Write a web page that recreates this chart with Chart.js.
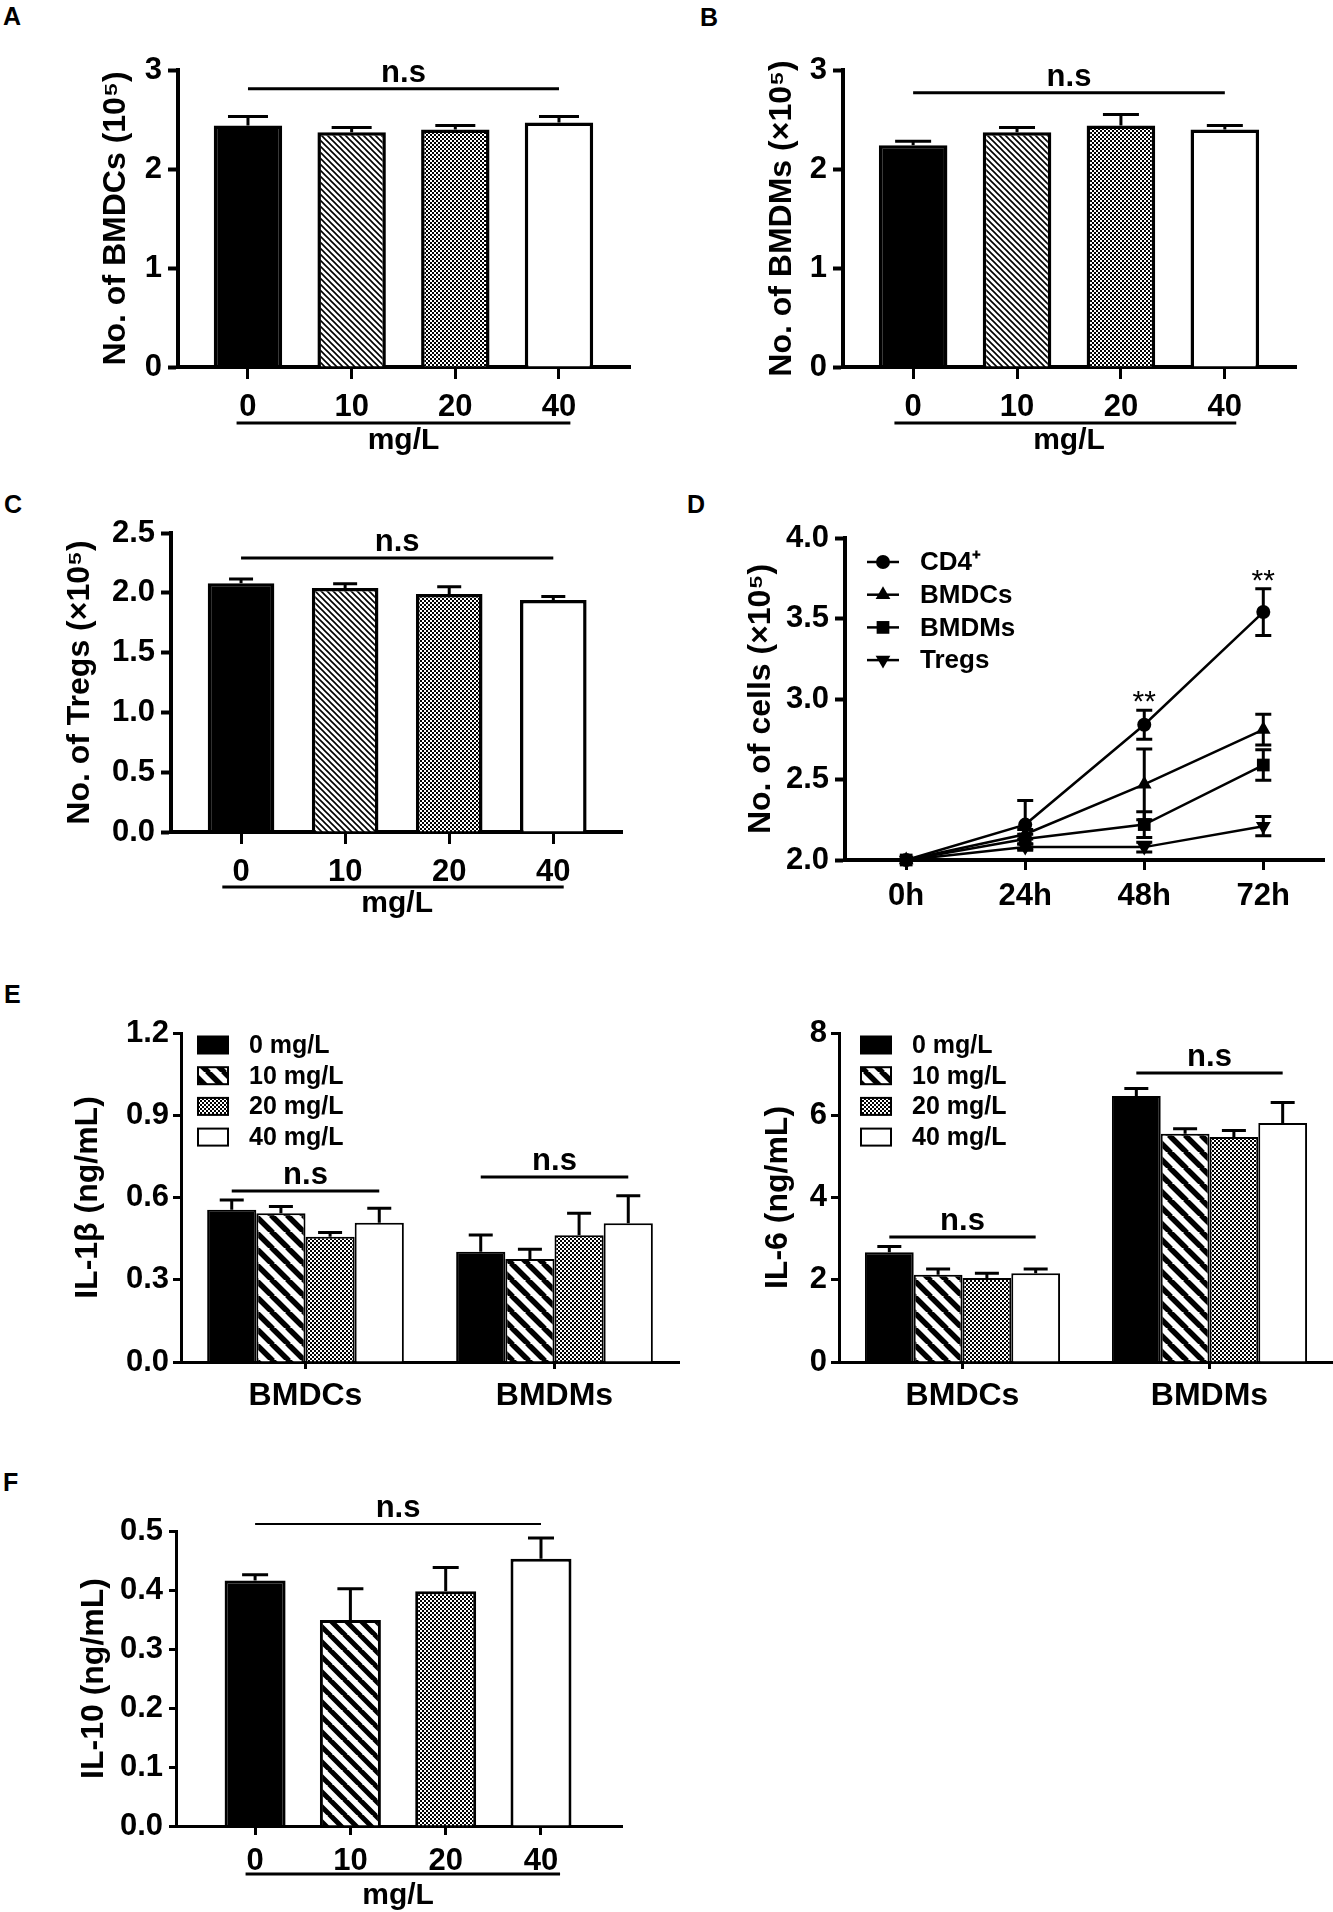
<!DOCTYPE html>
<html>
<head>
<meta charset="utf-8">
<script src="https://cdn.jsdelivr.net/npm/chart.js@4.4.1/dist/chart.umd.min.js"></script>
<style>
    body { margin: 0; background: #fff; width: 1333px; height: 1912px; position: relative; overflow: hidden;
           font-family: 'Liberation Sans', Arial, sans-serif; }
    canvas { position: absolute; }
    .tag { position: absolute; font-weight: bold; font-size: 25px; line-height: 1; }
</style>
</head>
<body>
<div class="tag" style="left:3px;top:4px">A</div>
<div class="tag" style="left:700px;top:5px">B</div>
<div class="tag" style="left:4px;top:492px">C</div>
<div class="tag" style="left:687px;top:492px">D</div>
<div class="tag" style="left:4px;top:982px">E</div>
<div class="tag" style="left:3px;top:1470px">F</div>

<canvas id="chartA" style="left:0;top:0" width="666" height="470"></canvas>
<canvas id="chartB" style="left:666px;top:0" width="667" height="470"></canvas>
<canvas id="chartC" style="left:0;top:480px" width="666" height="450"></canvas>
<canvas id="chartD" style="left:666px;top:480px" width="667" height="450"></canvas>
<canvas id="chartE1" style="left:0;top:960px" width="690" height="470"></canvas>
<canvas id="chartE2" style="left:690px;top:960px" width="643" height="470"></canvas>
<canvas id="chartF" style="left:0;top:1440px" width="666" height="472"></canvas>

<script>
// ---- data ----
const doseLabels = ['0', '10', '20', '40'];

// A: BMDCs (10^5)
const bmdcMean = [2.44, 2.37, 2.40, 2.47];
const bmdcSem  = [0.09, 0.05, 0.04, 0.06];
// B: BMDMs (x10^5)
const bmdmMean = [2.24, 2.37, 2.44, 2.40];
const bmdmSem  = [0.04, 0.05, 0.11, 0.04];
// C: Tregs (x10^5)
const tregMean = [2.08, 2.04, 1.99, 1.94];
const tregSem  = [0.035, 0.035, 0.06, 0.03];
// F: IL-10 (ng/mL)
const il10Mean = [0.416, 0.349, 0.398, 0.453];
const il10Sem  = [0.010, 0.053, 0.040, 0.035];

// D: growth curves (x10^5)
const hours = ['0h', '24h', '48h', '72h'];
const cd4Cells     = [2.00, 2.22, 2.84, 3.54];
const cd4CellSem   = [0, 0.15, 0.09, 0.145];
const bmdcCells    = [2.00, 2.16, 2.47, 2.81];
const bmdcCellSem  = [0, 0.03, 0.22, 0.095];
const bmdmCells    = [2.00, 2.13, 2.22, 2.59];
const bmdmCellSem  = [0, 0.03, 0.08, 0.095];
const tregCells    = [2.00, 2.08, 2.08, 2.21];
const tregCellSem  = [0, 0.02, 0.03, 0.06];
const starLevel    = [null, null, 3.05, 3.80];

// E: cytokines by cell type
const cellGroups = ['BMDCs', 'BMDMs'];
const doseNames = ['0 mg/L', '10 mg/L', '20 mg/L', '40 mg/L'];
const il1bBmdc    = [0.555, 0.543, 0.457, 0.508];
const il1bBmdcSem = [0.036, 0.024, 0.015, 0.053];
const il1bBmdm    = [0.402, 0.376, 0.462, 0.506];
const il1bBmdmSem = [0.061, 0.035, 0.081, 0.100];
const il6Bmdc     = [2.67, 2.12, 2.04, 2.16];
const il6BmdcSem  = [0.14, 0.14, 0.12, 0.10];
const il6Bmdm     = [6.47, 5.55, 5.47, 5.81];
const il6BmdmSem  = [0.18, 0.12, 0.16, 0.50];

// ---- defaults ----
const FAMILY = "'Liberation Sans', Arial, sans-serif";
const TICK = 31;
Chart.defaults.font.family = FAMILY;
Chart.defaults.font.weight = 'bold';
Chart.defaults.color = '#000';
Chart.defaults.animation = false;
Chart.defaults.plugins.legend.display = false;
Chart.defaults.plugins.tooltip.enabled = false;

// ---- fill patterns ----
function hatch(ctx, size, width) {
    const c = document.createElement('canvas');
    c.width = c.height = size;
    const g = c.getContext('2d');
    g.fillStyle = '#fff';
    g.fillRect(0, 0, size, size);
    g.strokeStyle = '#000';
    g.lineWidth = width;
    g.beginPath();
    for (let k = -1; k <= 1; k++) {
        g.moveTo(k * size - 1, -1);
        g.lineTo(k * size + size + 1, size + 1);
    }
    g.stroke();
    return ctx.createPattern(c, 'repeat');
}
function checker(ctx, cell) {
    const c = document.createElement('canvas');
    c.width = c.height = cell * 2;
    const g = c.getContext('2d');
    g.fillStyle = '#fff';
    g.fillRect(0, 0, cell * 2, cell * 2);
    g.fillStyle = '#000';
    g.fillRect(0, 0, cell, cell);
    g.fillRect(cell, cell, cell, cell);
    return ctx.createPattern(c, 'repeat');
}

// ---- plugins ----
const errorBars = {
    id: 'errorBars',
    afterDatasetsDraw(chart, args, o) {
        const ctx = chart.ctx, ys = chart.scales.y;
        ctx.save();
        ctx.strokeStyle = '#000';
        ctx.lineWidth = o.width;
        chart.data.datasets.forEach((ds, i) => {
            const meta = chart.getDatasetMeta(i);
            meta.data.forEach((el, j) => {
                const e = ds.errors[j];
                if (!e) return;
                const v = meta.controller.getParsed(j).y;
                const top = ys.getPixelForValue(v + e);
                const bot = o.both ? ys.getPixelForValue(v - e) : el.y;
                ctx.beginPath();
                ctx.moveTo(el.x, bot);
                ctx.lineTo(el.x, top);
                ctx.moveTo(el.x - o.cap / 2, top);
                ctx.lineTo(el.x + o.cap / 2, top);
                if (o.both) {
                    ctx.moveTo(el.x - o.cap / 2, bot);
                    ctx.lineTo(el.x + o.cap / 2, bot);
                }
                ctx.stroke();
            });
        });
        ctx.restore();
    }
};

// "n.s" brackets; mode 'dose' spans x=0..3, mode 'group' spans first..last bar in a group
const sigLines = {
    id: 'sigLines',
    afterDraw(chart, args, o) {
        if (!o.items) return;
        const ctx = chart.ctx, ys = chart.scales.y, xs = chart.scales.x;
        ctx.save();
        ctx.strokeStyle = '#000';
        ctx.fillStyle = '#000';
        ctx.lineWidth = o.width;
        ctx.font = 'bold ' + o.size + 'px ' + FAMILY;
        ctx.textAlign = 'center';
        ctx.textBaseline = 'alphabetic';
        o.items.forEach(it => {
            let x1, x2;
            if (o.mode === 'group') {
                const n = chart.data.datasets.length;
                x1 = chart.getDatasetMeta(0).data[it.group].x;
                x2 = chart.getDatasetMeta(n - 1).data[it.group].x;
            } else {
                x1 = xs.getPixelForValue(0);
                x2 = xs.getPixelForValue(3);
            }
            const y = ys.getPixelForValue(it.level);
            ctx.beginPath();
            ctx.moveTo(x1, y);
            ctx.lineTo(x2, y);
            ctx.stroke();
            ctx.fillText('n.s', (x1 + x2) / 2, y - 7);
        });
        ctx.restore();
    }
};

// line + "mg/L" under the dose tick labels
const doseUnit = {
    id: 'doseUnit',
    afterDraw(chart, args, o) {
        if (!o.show) return;
        const ctx = chart.ctx, xs = chart.scales.x, b = chart.chartArea.bottom;
        const x1 = xs.getPixelForValue(o.from), x2 = xs.getPixelForValue(o.to);
        ctx.save();
        ctx.strokeStyle = '#000';
        ctx.lineWidth = 3;
        ctx.beginPath();
        ctx.moveTo(x1, b + o.line);
        ctx.lineTo(x2, b + o.line);
        ctx.stroke();
        ctx.fillStyle = '#000';
        ctx.font = 'bold 30px ' + FAMILY;
        ctx.textAlign = 'center';
        ctx.textBaseline = 'alphabetic';
        ctx.fillText('mg/L', xs.getPixelForValue(1.5), b + o.text);
        ctx.restore();
    }
};

const boxLegend = {
    id: 'boxLegend',
    afterDraw(chart, args, o) {
        if (!o.show) return;
        const ctx = chart.ctx, {left, top} = chart.chartArea;
        ctx.save();
        ctx.font = 'bold 25px ' + FAMILY;
        ctx.textBaseline = 'middle';
        chart.data.datasets.forEach((ds, i) => {
            const y = top + o.y0 + i * o.gap;
            ctx.fillStyle = ds.backgroundColor;
            ctx.fillRect(left + o.bx, y - 8.5, 30, 17);
            ctx.strokeStyle = '#000';
            ctx.lineWidth = 2;
            ctx.strokeRect(left + o.bx, y - 8.5, 30, 17);
            ctx.fillStyle = '#000';
            ctx.fillText(ds.label, left + o.tx, y + 1);
        });
        ctx.restore();
    }
};

const lineLegend = {
    id: 'lineLegend',
    afterDraw(chart, args, o) {
        if (!o.show) return;
        const ctx = chart.ctx, {left, top} = chart.chartArea;
        ctx.save();
        ctx.font = 'bold 26px ' + FAMILY;
        ctx.textBaseline = 'middle';
        chart.data.datasets.forEach((ds, i) => {
            const y = top + o.y0 + i * o.gap;
            ctx.strokeStyle = '#000';
            ctx.fillStyle = '#000';
            ctx.lineWidth = 2.5;
            ctx.beginPath();
            ctx.moveTo(left + 22, y);
            ctx.lineTo(left + 54, y);
            ctx.stroke();
            Chart.helpers.drawPoint(ctx, {pointStyle: ds.pointStyle, rotation: ds.rotation,
                radius: ds.pointRadius, borderWidth: 0}, left + 38, y);
            ctx.fillStyle = '#000';
            ctx.fillText(ds.label, left + 75, y + 1);
        });
        ctx.restore();
    }
};

const stars = {
    id: 'stars',
    afterDraw(chart, args, o) {
        if (!o.levels) return;
        const ctx = chart.ctx, xs = chart.scales.x, ys = chart.scales.y;
        ctx.save();
        ctx.fillStyle = '#000';
        ctx.font = 'normal 30px ' + FAMILY;
        ctx.textAlign = 'center';
        ctx.textBaseline = 'middle';
        o.levels.forEach((lv, i) => {
            if (lv == null) return;
            ctx.fillText('**', xs.getPixelForValue(i), ys.getPixelForValue(lv) + 12);
        });
        ctx.restore();
    }
};

// ---- shared axis pieces ----
function yAxis(p) {
    return {
        min: p.yMin || 0, max: p.yMax,
        ticks: {stepSize: p.step, callback: v => v.toFixed(p.dec), font: {size: TICK, weight: 'bold'},
                color: '#000', padding: p.yPad},
        afterFit: s => { s.width = p.area[0] - (p.titleX - 16); },
        grid: {drawOnChartArea: false, tickLength: p.tick, tickWidth: p.axis, tickColor: '#000'},
        border: {color: '#000', width: p.axis},
        title: {display: true, text: p.title, color: '#000', padding: 0,
                font: {size: 32, weight: 'bold', lineHeight: 1}}
    };
}
function layoutFor(p, w) {
    return {padding: {left: p.titleX - 16, top: p.area[1], right: w - p.area[2], bottom: 0}};
}

// ---- dose bar panels (A, B, C, F) ----
function dosePanel(id, p) {
    const canvas = document.getElementById(id);
    const ctx = canvas.getContext('2d');
    const W = canvas.width, H = canvas.height;
    const fills = ['#000', hatch(ctx, p.hatchSize, p.hatchWidth), checker(ctx, 2), '#fff'];
    return new Chart(ctx, {
        type: 'bar',
        data: {
            datasets: [{
                data: p.means.map((v, i) => ({x: i, y: v})),
                errors: p.errs,
                backgroundColor: fills,
                borderColor: '#000',
                borderWidth: p.border,
                barPercentage: p.barPct,
                categoryPercentage: 1
            }]
        },
        options: {
            responsive: false,
            layout: layoutFor(p, W),
            scales: {
                x: {
                    type: 'linear', min: p.xMin, max: p.xMax, offset: false,
                    afterBuildTicks: s => { s.ticks = doseLabels.map((_, i) => ({value: i})); },
                    afterFit: s => { s.height = H - p.area[3]; },
                    ticks: {callback: (v, i) => doseLabels[i], font: {size: TICK, weight: 'bold'},
                            color: '#000', padding: p.xPad, maxRotation: 0, autoSkip: false},
                    grid: {offset: false, drawOnChartArea: false, tickLength: p.xTick, tickWidth: 3, tickColor: '#000'},
                    border: {color: '#000', width: p.axis}
                },
                y: yAxis(p)
            },
            plugins: {
                errorBars: {width: 3, cap: p.cap, both: false},
                sigLines: {items: [{level: p.sig}], mode: 'dose', size: 31, width: p.sigWidth},
                doseUnit: {show: true, from: p.uFrom, to: p.uTo, line: p.uLine, text: p.uText}
            }
        },
        plugins: [errorBars, sigLines, doseUnit]
    });
}

dosePanel('chartA', {
    means: bmdcMean, errs: bmdcSem, title: 'No. of BMDCs (10⁵)',
    area: [178, 70, 630, 367], titleX: 116, xMin: -0.675, xMax: 3.685,
    yMax: 3, step: 1, dec: 0, tick: 10, xTick: 12, axis: 4, yPad: 6, xPad: 10,
    hatchSize: 6, hatchWidth: 1.6, border: 3.5, barPct: 0.66, cap: 40,
    sig: 2.81, sigWidth: 3, uFrom: -0.11, uTo: 3.11, uLine: 56, uText: 82
});
dosePanel('chartB', {
    means: bmdmMean, errs: bmdmSem, title: 'No. of BMDMs (×10⁵)',
    area: [177, 70, 630, 367], titleX: 116, xMin: -0.675, xMax: 3.685,
    yMax: 3, step: 1, dec: 0, tick: 10, xTick: 12, axis: 4, yPad: 6, xPad: 10,
    hatchSize: 6, hatchWidth: 1.6, border: 3.5, barPct: 0.66, cap: 36,
    sig: 2.77, sigWidth: 3, uFrom: -0.18, uTo: 3.11, uLine: 56, uText: 82
});
dosePanel('chartC', {
    means: tregMean, errs: tregSem, title: 'No. of Tregs (×10⁵)',
    area: [171, 53, 622, 352], titleX: 80, xMin: -0.673, xMax: 3.66,
    yMax: 2.5, step: 0.5, dec: 1, tick: 10, xTick: 12, axis: 4, yPad: 6, xPad: 10,
    hatchSize: 6, hatchWidth: 1.6, border: 3.5, barPct: 0.64, cap: 24,
    sig: 2.29, sigWidth: 3, uFrom: -0.18, uTo: 3.1, uLine: 55, uText: 80
});
dosePanel('chartF', {
    means: il10Mean, errs: il10Sem, title: 'IL-10 (ng/mL)',
    area: [176, 91, 622, 386], titleX: 94, xMin: -0.83, xMax: 3.85,
    yMax: 0.5, step: 0.1, dec: 1, tick: 7, xTick: 9, axis: 3, yPad: 6, xPad: 8,
    hatchSize: 15, hatchWidth: 5, border: 3, barPct: 0.64, cap: 26,
    sig: 0.512, sigWidth: 2, uFrom: -0.1, uTo: 3.2, uLine: 48, uText: 78
});

// ---- D: growth curves ----
(function () {
    const canvas = document.getElementById('chartD');
    const ctx = canvas.getContext('2d');
    const W = canvas.width, H = canvas.height;
    const p = {area: [179, 58, 665, 380], titleX: 95, yMin: 2, yMax: 4, step: 0.5, dec: 1,
               tick: 10, axis: 4, yPad: 6, title: 'No. of cells (×10⁵)'};
    const series = [
        {label: 'CD4⁺', vals: cd4Cells, errs: cd4CellSem, style: 'circle', rot: 0, r: 7},
        {label: 'BMDCs', vals: bmdcCells, errs: bmdcCellSem, style: 'triangle', rot: 0, r: 8.5},
        {label: 'BMDMs', vals: bmdmCells, errs: bmdmCellSem, style: 'rect', rot: 0, r: 9},
        {label: 'Tregs', vals: tregCells, errs: tregCellSem, style: 'triangle', rot: 180, r: 8.5}
    ];
    new Chart(ctx, {
        type: 'line',
        data: {
            datasets: series.map(s => ({
                label: s.label,
                data: s.vals.map((v, i) => ({x: i, y: v})),
                errors: s.errs,
                borderColor: '#000', backgroundColor: '#000', borderWidth: 2.5,
                pointStyle: s.style, rotation: s.rot, pointRadius: s.r, pointBorderWidth: 0,
                tension: 0, clip: false
            }))
        },
        options: {
            responsive: false,
            layout: layoutFor(p, W),
            scales: {
                x: {
                    type: 'linear', min: -0.514, max: 3.51, offset: false,
                    afterBuildTicks: s => { s.ticks = hours.map((_, i) => ({value: i})); },
                    afterFit: s => { s.height = H - p.area[3]; },
                    ticks: {callback: (v, i) => hours[i], font: {size: TICK, weight: 'bold'},
                            color: '#000', padding: 8, maxRotation: 0, autoSkip: false},
                    grid: {offset: false, drawOnChartArea: false, tickLength: 10, tickWidth: 3, tickColor: '#000'},
                    border: {color: '#000', width: 4}
                },
                y: yAxis(p)
            },
            plugins: {
                errorBars: {width: 3, cap: 16, both: true},
                lineLegend: {show: true, y0: 24, gap: 32.7},
                stars: {levels: starLevel}
            }
        },
        plugins: [errorBars, lineLegend, stars]
    });
})();

// ---- E: grouped cytokine panels ----
function groupPanel(id, p) {
    const canvas = document.getElementById(id);
    const ctx = canvas.getContext('2d');
    const W = canvas.width, H = canvas.height;
    const fills = ['#000', hatch(ctx, 16, 5.5), checker(ctx, 2), '#fff'];
    return new Chart(ctx, {
        type: 'bar',
        data: {
            labels: cellGroups,
            datasets: doseNames.map((name, j) => ({
                label: name,
                data: [p.bmdc[j], p.bmdm[j]],
                errors: [p.bmdcErr[j], p.bmdmErr[j]],
                backgroundColor: fills[j],
                borderColor: '#000',
                borderWidth: 2,
                categoryPercentage: 0.79,
                barPercentage: 1
            }))
        },
        options: {
            responsive: false,
            layout: layoutFor(p, W),
            scales: {
                x: {
                    offset: true,
                    afterFit: s => { s.height = H - p.area[3]; },
                    ticks: {font: {size: 32, weight: 'bold'}, color: '#000', padding: 8},
                    grid: {offset: false, drawOnChartArea: false, tickLength: 7, tickWidth: 3, tickColor: '#000'},
                    border: {color: '#000', width: 3}
                },
                y: yAxis(p)
            },
            plugins: {
                errorBars: {width: 3, cap: 24, both: false},
                sigLines: {items: p.sig, mode: 'group', size: 31, width: 3},
                boxLegend: {show: true, y0: 12, gap: 30.7, bx: p.bx, tx: p.tx}
            }
        },
        plugins: [errorBars, sigLines, boxLegend]
    });
}

groupPanel('chartE1', {
    bmdc: il1bBmdc, bmdcErr: il1bBmdcSem, bmdm: il1bBmdm, bmdmErr: il1bBmdmSem,
    title: 'IL-1β (ng/mL)', area: [181, 73, 679, 402], titleX: 88,
    yMax: 1.2, step: 0.3, dec: 1, tick: 8, axis: 3, yPad: 4, bx: 17, tx: 68,
    sig: [{group: 0, level: 0.624}, {group: 1, level: 0.675}]
});
groupPanel('chartE2', {
    bmdc: il6Bmdc, bmdcErr: il6BmdcSem, bmdm: il6Bmdm, bmdmErr: il6BmdmSem,
    title: 'IL-6 (ng/mL)', area: [149, 73, 643, 402], titleX: 88,
    yMax: 8, step: 2, dec: 0, tick: 8, axis: 3, yPad: 4, bx: 22, tx: 73,
    sig: [{group: 0, level: 3.04}, {group: 1, level: 7.03}]
});
</script>
</body>
</html>
